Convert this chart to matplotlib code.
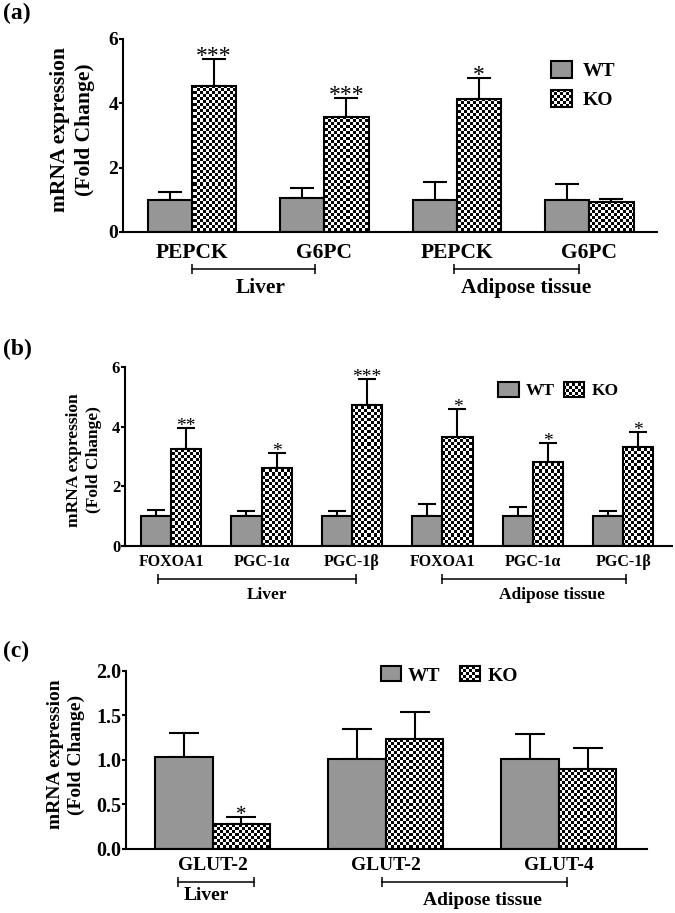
import numpy as np
import matplotlib
matplotlib.use('Agg')
import matplotlib.pyplot as plt
from matplotlib.patches import Patch

plt.rcParams['font.family'] = 'Liberation Serif'
plt.rcParams['font.weight'] = 'bold'

# ---- (a) gluconeogenic genes ----
a_genes = ['PEPCK', 'G6PC', 'PEPCK', 'G6PC']
a_wt = [0.99, 1.06, 1.00, 1.00]
a_wt_sem = [0.26, 0.31, 0.55, 0.49]
a_ko = [4.54, 3.57, 4.13, 0.93]
a_ko_sem = [0.84, 0.60, 0.66, 0.10]
a_stars = ['***', '***', '*', '']

# ---- (b) transcription factors / coactivators ----
b_genes = ['FOXOA1', 'PGC-1α', 'PGC-1β', 'FOXOA1', 'PGC-1α', 'PGC-1β']
b_wt = [1.0, 1.0, 1.0, 1.0, 1.0, 1.0]
b_wt_sem = [0.22, 0.17, 0.17, 0.41, 0.31, 0.17]
b_ko = [3.25, 2.62, 4.73, 3.66, 2.82, 3.32]
b_ko_sem = [0.71, 0.50, 0.87, 0.94, 0.63, 0.51]
b_stars = ['**', '*', '***', '*', '*', '*']

# ---- (c) glucose transporters ----
c_genes = ['GLUT-2', 'GLUT-2', 'GLUT-4']
c_wt = [1.03, 1.01, 1.01]
c_wt_sem = [0.27, 0.34, 0.28]
c_ko = [0.28, 1.24, 0.90]
c_ko_sem = [0.08, 0.30, 0.23]
c_stars = ['*', '', '']

tissues = ['Liver', 'Adipose tissue']
groups = ['WT', 'KO']

GRAY = '#969696'
W = 1 / 3


def checker(ax, patch, z, cell=3.0):
    # fine black/white checkerboard clipped to a patch
    bw, bh = ax.bbox.width, ax.bbox.height
    nx, ny = int(bw * 1.4 / cell), int(bh * 1.6 / cell)
    board = np.indices((ny, nx)).sum(axis=0) % 2
    im = ax.imshow(board, cmap='gray', vmin=0, vmax=1, extent=(-0.2, 1.2, -0.2, 1.4),
                   transform=ax.transAxes, aspect='auto', interpolation='nearest', zorder=z)
    im.set_clip_box(ax.figure.bbox)
    im.set_clip_path(patch)


def panel(ax, genes, wt, wt_sem, ko, ko_sem, stars, xlim, ylim, yticks, fmt,
          fs, tfs, star_fs, capsize, xpad):
    x = np.arange(len(genes))
    ax.bar(x - W / 2, wt, W, color=GRAY, edgecolor='k', lw=1.5, zorder=2)
    ko_bars = ax.bar(x + W / 2, ko, W, facecolor='none', edgecolor='k', lw=1.5, zorder=2)
    for b in ko_bars:
        checker(ax, b, 1.5)
    zeros = np.zeros(len(x))
    ax.errorbar(x - W / 2, wt, yerr=[zeros, wt_sem], fmt='none', ecolor='k',
                elinewidth=1.5, capsize=capsize, capthick=1.5, zorder=1)
    ax.errorbar(x + W / 2, ko, yerr=[zeros, ko_sem], fmt='none', ecolor='k',
                elinewidth=1.5, capsize=capsize, capthick=1.5, zorder=1)
    for xi, top, s in zip(x + W / 2, np.add(ko, ko_sem), stars):
        if s:
            ax.annotate(s, (xi, top), xytext=(0, -2.5), textcoords='offset points',
                        ha='center', va='baseline', fontsize=star_fs, fontweight='normal')
    ax.set_xlim(*xlim)
    ax.set_ylim(*ylim)
    ax.set_xticks(x, genes)
    ax.set_yticks(yticks, [fmt.format(t) for t in yticks])
    ax.tick_params(axis='x', length=0, pad=xpad, labelsize=fs)
    ax.tick_params(axis='y', length=3, width=1.5, pad=0.5, labelsize=tfs)
    for s in ['top', 'right']:
        ax.spines[s].set_visible(False)
    for s in ['left', 'bottom']:
        ax.spines[s].set_linewidth(1.5)


def bracket(ax, x0, x1, y, label, xt, yt, fs):
    tr = ax.get_xaxis_transform()
    ax.plot([x0, x1], [y, y], color='k', lw=1.1, marker='|', ms=7, mew=1.1,
            transform=tr, clip_on=False)
    ax.text(xt, yt, label, transform=tr, ha='center', va='center', fontsize=fs)


def ylabel(ax, xpos, ypos, fs):
    ax.text(xpos, ypos, 'mRNA expression\n(Fold Change)', transform=ax.transAxes,
            rotation=90, ha='center', va='center', fontsize=fs, linespacing=1.3)


def legend(ax, anchor, ncol, fs, hl, hh, tp, cs, ls):
    handles = [Patch(facecolor=GRAY, edgecolor='k', lw=1.5),
               Patch(facecolor='none', edgecolor='k', lw=1.5)]
    leg = ax.legend(handles, groups, loc='upper left', bbox_to_anchor=anchor,
                    bbox_transform=ax.figure.transFigure, ncol=ncol, frameon=False,
                    borderpad=0, borderaxespad=0, handlelength=hl, handleheight=hh,
                    handletextpad=tp, columnspacing=cs, labelspacing=ls,
                    prop={'size': fs, 'weight': 'bold'})
    checker(ax, leg.legend_handles[1], 4)


fig = plt.figure(figsize=(6.75, 9.13), dpi=100)
ax_a = fig.add_axes([0.1822, 0.7459, 0.7911, 0.2114])
ax_b = fig.add_axes([0.1852, 0.4020, 0.8104, 0.1961])
ax_c = fig.add_axes([0.1867, 0.0701, 0.7719, 0.1950])

# (a)
panel(ax_a, a_genes, a_wt, a_wt_sem, a_ko, a_ko_sem, a_stars, (-0.52, 3.51), (0, 6),
      [0, 2, 4, 6], '{:g}', 15.5, 14, 17, 8.6, 8)
bracket(ax_a, 0.0, 0.93, -0.19, tissues[0], 0.52, -0.29, 15.5)
bracket(ax_a, 1.98, 2.92, -0.19, tissues[1], 2.52, -0.29, 15.5)
ylabel(ax_a, -0.095, 0.53, 15.5)
legend(ax_a, (0.816, 0.933), 1, 14, 1.1, 0.95, 0.55, 0.5, 0.5)

# (b)
panel(ax_b, b_genes, b_wt, b_wt_sem, b_ko, b_ko_sem, b_stars, (-0.51, 5.54), (0, 6),
      [0, 2, 4, 6], '{:g}', 11.5, 12, 14, 6.5, 6)
bracket(ax_b, -0.15, 2.05, -0.184, tissues[0], 1.06, -0.274, 12.5)
bracket(ax_b, 3.0, 5.03, -0.184, tissues[1], 4.21, -0.274, 12.5)
ylabel(ax_b, -0.075, 0.48, 12.5)
legend(ax_b, (0.738, 0.582), 2, 12.5, 1.2, 0.95, 0.4, 0.5, 0.4)

# (c)
panel(ax_c, c_genes, c_wt, c_wt_sem, c_ko, c_ko_sem, c_stars, (-0.50, 2.51), (0, 2),
      [0, 0.5, 1.0, 1.5, 2.0], '{:.1f}', 14, 14.5, 15, 10.8, 6)
bracket(ax_c, -0.2, 0.24, -0.185, tissues[0], -0.035, -0.264, 14)
bracket(ax_c, 0.98, 2.05, -0.185, tissues[1], 1.56, -0.29, 14)
ylabel(ax_c, -0.115, 0.53, 14)
legend(ax_c, (0.564, 0.270), 2, 14, 1.05, 0.8, 0.36, 1.0, 0.4)

fig.text(0.004, 1 - 13 / 913, '(a)', va='center', ha='left', fontsize=17)
fig.text(0.004, 1 - 349 / 913, '(b)', va='center', ha='left', fontsize=17)
fig.text(0.004, 1 - 651 / 913, '(c)', va='center', ha='left', fontsize=17)

fig.canvas.draw()
fig.savefig('out.png', dpi=100)
